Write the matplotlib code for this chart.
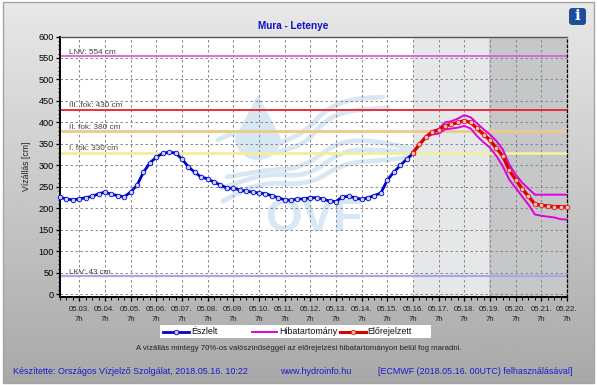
import numpy as np
import matplotlib
matplotlib.use("Agg")
import matplotlib.pyplot as plt
from matplotlib.patches import FancyBboxPatch, Rectangle
from matplotlib.ticker import MultipleLocator

# days counted from 05.03. 7h, one reading every 6 hours
obs_start = -0.75
fc_start = 13.0
step = 0.25

observed = [226, 222, 220, 222, 225, 228, 234, 238, 233, 230, 227, 238, 254, 284, 306, 319,
            328, 331, 329, 315, 297, 284, 273, 269, 261, 255, 247, 247, 243, 240, 238, 236,
            234, 230, 225, 220, 219, 222, 222, 225, 225, 222, 217, 216, 227, 228, 225, 221,
            225, 230, 236, 266, 284, 300, 314, 328]
forecast = [330, 349, 366, 378, 382, 392, 396, 400, 404, 400, 386, 372, 359, 340, 322, 289,
            267, 246, 228, 210, 207, 206, 204, 204, 203]
upper = [330, 350, 367, 380, 385, 400, 403, 409, 417, 412, 398, 384, 372, 357, 337, 302,
         279, 260, 246, 232, 232, 232, 232, 232, 232]
lower = [330, 347, 365, 372, 374, 384, 386, 388, 392, 386, 368, 354, 341, 322, 298, 267,
         248, 228, 209, 186, 183, 181, 179, 175, 174]

thresholds = [(554, "LNV: 554 cm", "#d860d8", 1.3), (430, "III. fok: 430 cm", "#e8202a", 1.3),
              (380, "II. fok: 380 cm", "#efc98a", 2.0), (330, "I. fok: 330 cm", "#f2ee9c", 2.0),
              (43, "LKV: 43 cm", "#a8a8e8", 1.6)]
day_labels = ["05.%02d." % d for d in range(3, 23)]

# logo swooshes behind the chart, page pixels
swooshes = [
    [(280, 143), (305, 132), (325, 110), (350, 99), (383, 97)],
    [(278, 152), (305, 144), (325, 120), (350, 110), (388, 108)],
    [(218, 140), (228, 135), (238, 132)],
    [(227, 177), (267, 170), (303, 168), (337, 142), (370, 140), (410, 148)],
    [(222, 188), (267, 173), (307, 177), (343, 150), (377, 150), (413, 152)],
    [(223, 201), (260, 182), (310, 185), (343, 163), (387, 160), (410, 157)],
]


def smooth(pts, rounds=4):
    # corner cutting, enough for a faint logo
    p = np.array(pts, dtype=float)
    for _ in range(rounds):
        a = 0.75 * p[:-1] + 0.25 * p[1:]
        b = 0.25 * p[:-1] + 0.75 * p[1:]
        p = np.vstack([p[0], np.column_stack([a, b]).reshape(-1, 2), p[-1]])
    return p


W, H = 597, 385
plt.rcParams["font.family"] = ["Liberation Sans", "DejaVu Sans"]
fig = plt.figure(figsize=(W / 100, H / 100), dpi=100, facecolor="white")

# grey gradient page background, this axes works in page pixels
bg = fig.add_axes([0, 0, 1, 1], zorder=0)
grad = np.linspace(0.91, 0.66, 256).reshape(-1, 1)
bg.imshow(grad, aspect="auto", cmap="gray", vmin=0, vmax=1, extent=[3, 594, 383, 2])
bg.add_patch(Rectangle((3, 2), 591, 381, fill=False, ec="#a4a4a4", lw=1))
bg.set_xlim(0, W)
bg.set_ylim(H, 0)
bg.axis("off")
page = bg.transData

x0, x1 = 60, 567
y0, y1 = 36.5, 297
ax = fig.add_axes([x0 / W, 1 - y1 / H, (x1 - x0) / W, (y1 - y0) / H], zorder=2)
ax.axvspan(13, 15.95, color="#e6e7e9", zorder=0, lw=0)
ax.axvspan(15.95, 19, color="#c6c7c9", zorder=0, lw=0)

# watermark
wm_col = "#d8e7f4"
s = np.linspace(0, np.pi, 40)
ax.fill(np.r_[258, 258 + 23 * np.cos(s), 258], np.r_[95, 138 + 22 * np.sin(s), 95],
        color=wm_col, lw=0, zorder=1, transform=page)
for pts in swooshes:
    p = smooth(pts)
    ax.plot(p[:, 0], p[:, 1], color=wm_col, lw=3.4, solid_capstyle="round", zorder=1, transform=page)
ax.text(313.5, 231, "OVF", fontsize=34, color=wm_col, fontweight="bold", ha="center", va="baseline",
        zorder=1, transform=page, clip_on=True)

ax.set_axisbelow("line")
ax.grid(True, which="major", color="#8c8c8c", ls=(0, (2.4, 2.4)), lw=0.75)

for val, lab, col, lw in thresholds:
    ax.axhline(val, color=col, lw=lw, zorder=2)
    ax.text(-0.4, val + 5, lab, fontsize=5.9, color="#444444", va="baseline", ha="left", zorder=5)

xo = obs_start + step * np.arange(len(observed))
ax.plot(xo, observed, color="#0000d0", lw=2.0, marker="o", ms=3.3, mfc="#c4d4f6", mec="#0000d0", mew=0.6, zorder=4, clip_on=False)
xf = fc_start + step * np.arange(len(forecast))
ax.plot(xf, upper, color="#e000e0", lw=1.4, zorder=3)
ax.plot(xf, lower, color="#e000e0", lw=1.4, zorder=3)
ax.plot(xf, forecast, color="#e00000", lw=2.4, marker="o", ms=3.3, mfc="#f4c0b8", mec="#e00000", mew=0.5, zorder=4, clip_on=False)

ax.set_xlim(-0.75, 19)
ax.set_ylim(-6, 600)
ax.xaxis.set_minor_locator(MultipleLocator(0.25))
ax.yaxis.set_major_locator(MultipleLocator(50))
ax.yaxis.set_minor_locator(MultipleLocator(10))
ax.set_xticks(np.arange(0, 20))
ax.set_xticklabels([d + "\n7h" for d in day_labels], fontsize=5.6, color="#222222", linespacing=1.55)
ax.tick_params(axis="x", which="major", length=3.2, width=0.9, pad=3.2)
ax.tick_params(axis="x", which="minor", length=1.8, width=0.7)
ax.tick_params(axis="y", which="major", length=3, width=0.9, labelsize=6.6, pad=1.5)
ax.tick_params(axis="y", which="minor", length=1.6, width=0.7)
ax.set_ylabel("Vízállás [cm]", fontsize=6.2, color="#222222", labelpad=5)
for side in ("left", "bottom"):
    ax.spines[side].set_linewidth(1.4)
ax.spines["top"].set_color("#555555")
ax.spines["top"].set_linewidth(1.0)
ax.spines["right"].set_linestyle((0, (2, 2)))
ax.spines["right"].set_linewidth(0.9)

# legend box, columns equally spaced as in the source image
top = fig.add_axes([0, 0, 1, 1], zorder=5)
top.set_xlim(0, W)
top.set_ylim(H, 0)
top.axis("off")
top.add_patch(Rectangle((160, 325), 271, 13, fc="white", ec="none"))
ly = 331.5
top.plot([163, 189], [ly, ly], color="#0000d0", lw=2.0)
top.plot([176], [ly], marker="o", ms=3.3, mfc="#c4d4f6", mec="#0000d0", mew=0.6)
top.text(191, ly, "Észlelt", fontsize=6.4, color="#111111", va="center")
top.plot([252, 277], [ly, ly], color="#e000e0", lw=1.4)
top.text(279, ly, "Hibatartomány", fontsize=6.4, color="#111111", va="center")
top.plot([340, 366], [ly, ly], color="#e00000", lw=2.2)
top.plot([353], [ly], marker="o", ms=3.3, mfc="#f4c0b8", mec="#e00000", mew=0.5)
top.text(367.5, ly, "Előrejelzett", fontsize=6.4, color="#111111", va="center")

top.text(293, 26, "Mura - Letenye", fontsize=7.2, fontweight="bold", color="#1010c8", ha="center", va="center")
top.text(298.5, 348.5, "A vízállás mintegy 70%-os valószínűséggel az előrejelzési hibatartományon belül fog maradni.",
         fontsize=5.6, color="#222222", ha="center", va="center")
top.text(13, 372, "Készítette: Országos Vízjelző Szolgálat, 2018.05.16. 10:22", fontsize=6.5, color="#1a1ad0", va="center")
top.text(316, 372, "www.hydroinfo.hu", fontsize=6.5, color="#1a1ad0", ha="center", va="center")
top.text(573, 372, "[ECMWF (2018.05.16. 00UTC) felhasználásával]", fontsize=6.4, color="#1a1ad0", ha="right", va="center")

# info button
top.add_patch(FancyBboxPatch((569.5, 8.5), 16, 16, boxstyle="round,pad=0,rounding_size=2.5", fc="#1a4fa0", ec="#103070", lw=0.5))
top.text(577.5, 16.5, "i", fontsize=11, fontweight="bold", family="DejaVu Serif", color="white", ha="center", va="center")

fig.savefig("out.png", dpi=100)
